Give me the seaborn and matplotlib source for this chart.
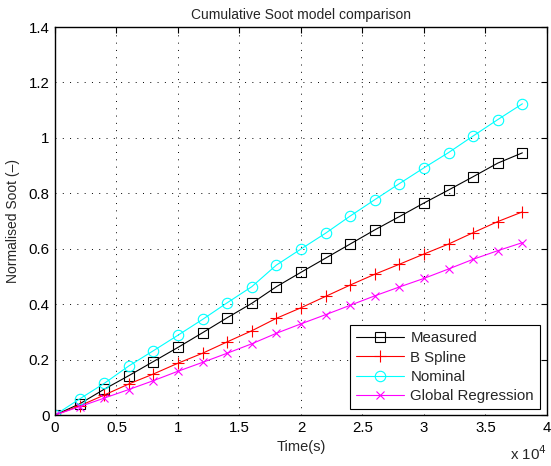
import matplotlib
matplotlib.use('Agg')
import matplotlib.pyplot as plt
import matplotlib.ticker as mticker
import seaborn as sns

# Data
time = [0, 2000, 4000, 6000, 8000, 10000, 12000, 14000, 16000, 18000,
        20000, 22000, 24000, 26000, 28000, 30000, 32000, 34000, 36000, 38000]
measured = [0, 0.040, 0.093, 0.142, 0.193, 0.244, 0.297, 0.351, 0.403, 0.463,
            0.515, 0.566, 0.617, 0.668, 0.716, 0.765, 0.812, 0.860, 0.909, 0.946]
b_spline = [0, 0.033, 0.072, 0.112, 0.148, 0.187, 0.223, 0.264, 0.304, 0.349,
            0.387, 0.428, 0.469, 0.508, 0.544, 0.581, 0.617, 0.658, 0.698, 0.733]
nominal = [0, 0.058, 0.114, 0.177, 0.232, 0.288, 0.345, 0.405, 0.463, 0.541,
           0.599, 0.656, 0.718, 0.777, 0.835, 0.892, 0.947, 1.007, 1.066, 1.123]
global_regression = [0, 0.030, 0.061, 0.092, 0.124, 0.158, 0.190, 0.223, 0.257, 0.295,
                     0.329, 0.362, 0.396, 0.430, 0.462, 0.493, 0.527, 0.562, 0.593, 0.622]

sns.set_style('white')
plt.rcParams['font.family'] = ['Liberation Sans', 'DejaVu Sans']
plt.rcParams['font.size'] = 10

fig = plt.figure(figsize=(5.51, 4.66), dpi=100)
ax = fig.add_axes([0.0998, 0.1094, 0.8929, 0.8326])

# Plot each model
series = [
    ('Measured', measured, 'black', 's', 6.5),
    ('B Spline', b_spline, '#ff0000', '+', 8),
    ('Nominal', nominal, '#00ffff', 'o', 7.5),
    ('Global Regression', global_regression, '#ff00ff', 'x', 5.5),
]
for name, vals, col, mk, ms in series:
    sns.lineplot(x=time, y=vals, ax=ax, color=col, marker=mk, markersize=ms,
                 markerfacecolor='none', markeredgecolor=col, markeredgewidth=0.8,
                 linewidth=0.8, label=name)

# Axis limits and ticks
ax.set_xlim(0, 40000)
ax.set_ylim(0, 1.4)
ax.set_xticks([i * 5000 for i in range(9)])
ax.set_yticks([i * 0.2 for i in range(8)])
ax.xaxis.set_major_formatter(mticker.FuncFormatter(lambda v, p: '%g' % (v / 1e4)))
ax.yaxis.set_major_formatter(mticker.FuncFormatter(lambda v, p: '%g' % round(v, 1)))
ax.tick_params(direction='in', top=True, right=True, length=4, width=0.8,
               labelsize=10.8, colors='black', pad=4)

# Dotted grid in MATLAB style
ax.grid(True, color='black', linestyle=(0, (1, 6.5)), linewidth=0.7)
for s in ax.spines.values():
    s.set_color('black')
    s.set_linewidth(1.0)

# Labels and title
ax.set_title('Cumulative Soot model comparison', fontsize=10, pad=6)
ax.set_xlabel('Time(s)', fontsize=10.5, labelpad=4)
ax.set_ylabel('Normalised Soot (–)', fontsize=10, labelpad=6)
ax.text(1.0, -0.1, r'x 10$^{4}$', transform=ax.transAxes, ha='right', va='center',
        fontsize=10.8)

# Legend
leg = ax.legend(loc='lower right', bbox_to_anchor=(0.986, 0.015), borderaxespad=0,
                fancybox=False, framealpha=1, edgecolor='black', fontsize=10.8,
                handlelength=3.2, handletextpad=0.4, labelspacing=0.35,
                borderpad=0.4, numpoints=1)
leg.get_frame().set_linewidth(0.8)

plt.savefig('out.png', dpi=100)
